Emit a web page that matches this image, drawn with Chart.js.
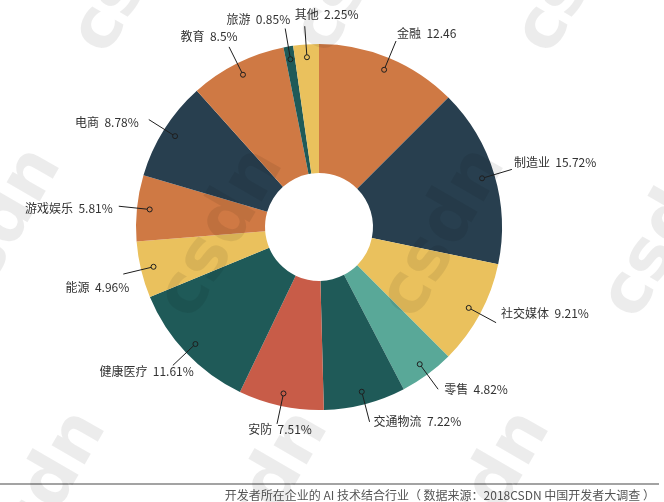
<!DOCTYPE html>
<html lang="zh-CN">
<head>
<meta charset="UTF-8">
<title>开发者所在企业的 AI 技术结合行业</title>
<script src="https://cdn.jsdelivr.net/npm/chart.js"></script>
<style>
  html, body { margin: 0; padding: 0; background: #fff; }
  #wrap { width: 664px; height: 502px; position: relative; }
</style>
</head>
<body>
<div id="wrap"><canvas id="industryChart" width="664" height="502"></canvas></div>
<script>
// industries, clockwise from 12 o'clock
const industries = ['金融', '制造业', '社交媒体', '零售', '交通物流', '安防', '健康医疗',
                    '能源', '游戏娱乐', '电商', '教育', '旅游', '其他'];
const shares = [12.46, 15.72, 9.21, 4.82, 7.22, 7.51, 11.61, 4.96, 5.81, 8.78, 8.5, 0.85, 2.25];
const sliceColors = ['#CF7944', '#283F4F', '#EAC15D', '#59A898', '#1F5A58', '#C85C48', '#1F5A58',
                     '#EAC15D', '#CF7944', '#283F4F', '#CF7944', '#1F5A58', '#EAC15D'];
const captionText = '开发者所在企业的 AI 技术结合行业（ 数据来源：2018CSDN 中国开发者大调查 ）';

// where each label text sits relative to the end of its leader line: [dx, dy, align]
const labelPlacement = [
  [1, -8, 'left'], [2, -7, 'left'], [5, -9, 'left'], [6, 0, 'left'], [4, 0, 'left'],
  [3, 6, 'center'], [21, 6, 'right'], [6, 13, 'right'], [-6, 2, 'right'], [-10, 3, 'right'],
  [-20, -10, 'center'], [5, -9, 'right'], [-10, -12, 'left']
];

function labelText(i) {
  // the source shows no % sign after the 金融 value
  return industries[i] + '  ' + shares[i] + (i === 0 ? '' : '%');
}

const leaderLabels = {
  id: 'leaderLabels',
  afterDatasetsDraw(chart) {
    const ctx = chart.ctx;
    const arcs = chart.getDatasetMeta(0).data;
    ctx.save();
    ctx.font = '12px "Noto Sans CJK SC", sans-serif';
    ctx.fillStyle = '#333';
    ctx.strokeStyle = '#1e1e1e';
    ctx.lineWidth = 1;
    arcs.forEach((arc, i) => {
      const mid = (arc.startAngle + arc.endAngle) / 2;
      const c = Math.cos(mid), s = Math.sin(mid);
      const r = arc.outerRadius;
      const mx = arc.x + c * r * 0.93, my = arc.y + s * r * 0.93;
      const ex = arc.x + c * r * 1.1, ey = arc.y + s * r * 1.1;
      ctx.beginPath();
      ctx.moveTo(mx + c * 2.5, my + s * 2.5);
      ctx.lineTo(ex, ey);
      ctx.stroke();
      ctx.beginPath();
      ctx.arc(mx, my, 2.5, 0, Math.PI * 2);
      ctx.stroke();
      const p = labelPlacement[i];
      ctx.textAlign = p[2];
      ctx.textBaseline = 'middle';
      ctx.fillText(labelText(i), ex + p[0], ey + p[1]);
    });
    ctx.restore();
  }
};

const captionAndMark = {
  id: 'captionAndMark',
  afterDraw(chart) {
    const ctx = chart.ctx;
    ctx.save();
    // caption with rule above it
    ctx.strokeStyle = '#a3a3a3';
    ctx.lineWidth = 2;
    ctx.beginPath();
    ctx.moveTo(0, 484);
    ctx.lineTo(659, 484);
    ctx.stroke();
    ctx.font = '12px "Noto Sans CJK SC", sans-serif';
    ctx.fillStyle = '#555';
    ctx.textAlign = 'right';
    ctx.textBaseline = 'middle';
    ctx.fillText(captionText, 655, 495);

    // faint tiled watermark
    ctx.fillStyle = 'rgba(0,0,0,0.075)';
    ctx.font = 'bold 70px "DejaVu Sans", sans-serif';
    ctx.textAlign = 'left';
    ctx.textBaseline = 'alphabetic';
    const rows = [[106, 57], [-30, 322], [15, 585]];
    rows.forEach(([x0, y]) => {
      for (let x = x0; x < 700; x += 222) {
        ctx.save();
        ctx.translate(x, y);
        ctx.rotate(-Math.PI / 3);
        ctx.fillText('csdn', 0, 0);
        ctx.restore();
      }
    });
    ctx.restore();
  }
};

const ctx1 = document.getElementById('industryChart').getContext('2d');
const industryChart = new Chart(ctx1, {
  type: 'doughnut',
  data: {
    labels: industries,
    datasets: [{
      data: shares,
      backgroundColor: sliceColors,
      borderWidth: 0,
      hoverOffset: 0
    }]
  },
  options: {
    responsive: false,
    animation: false,
    cutout: '29.5%',
    layout: { padding: { left: 136, top: 44, right: 162, bottom: 92 } },
    plugins: {
      legend: { display: false },
      tooltip: { enabled: false }
    }
  },
  plugins: [leaderLabels, captionAndMark]
});
</script>
</body>
</html>
